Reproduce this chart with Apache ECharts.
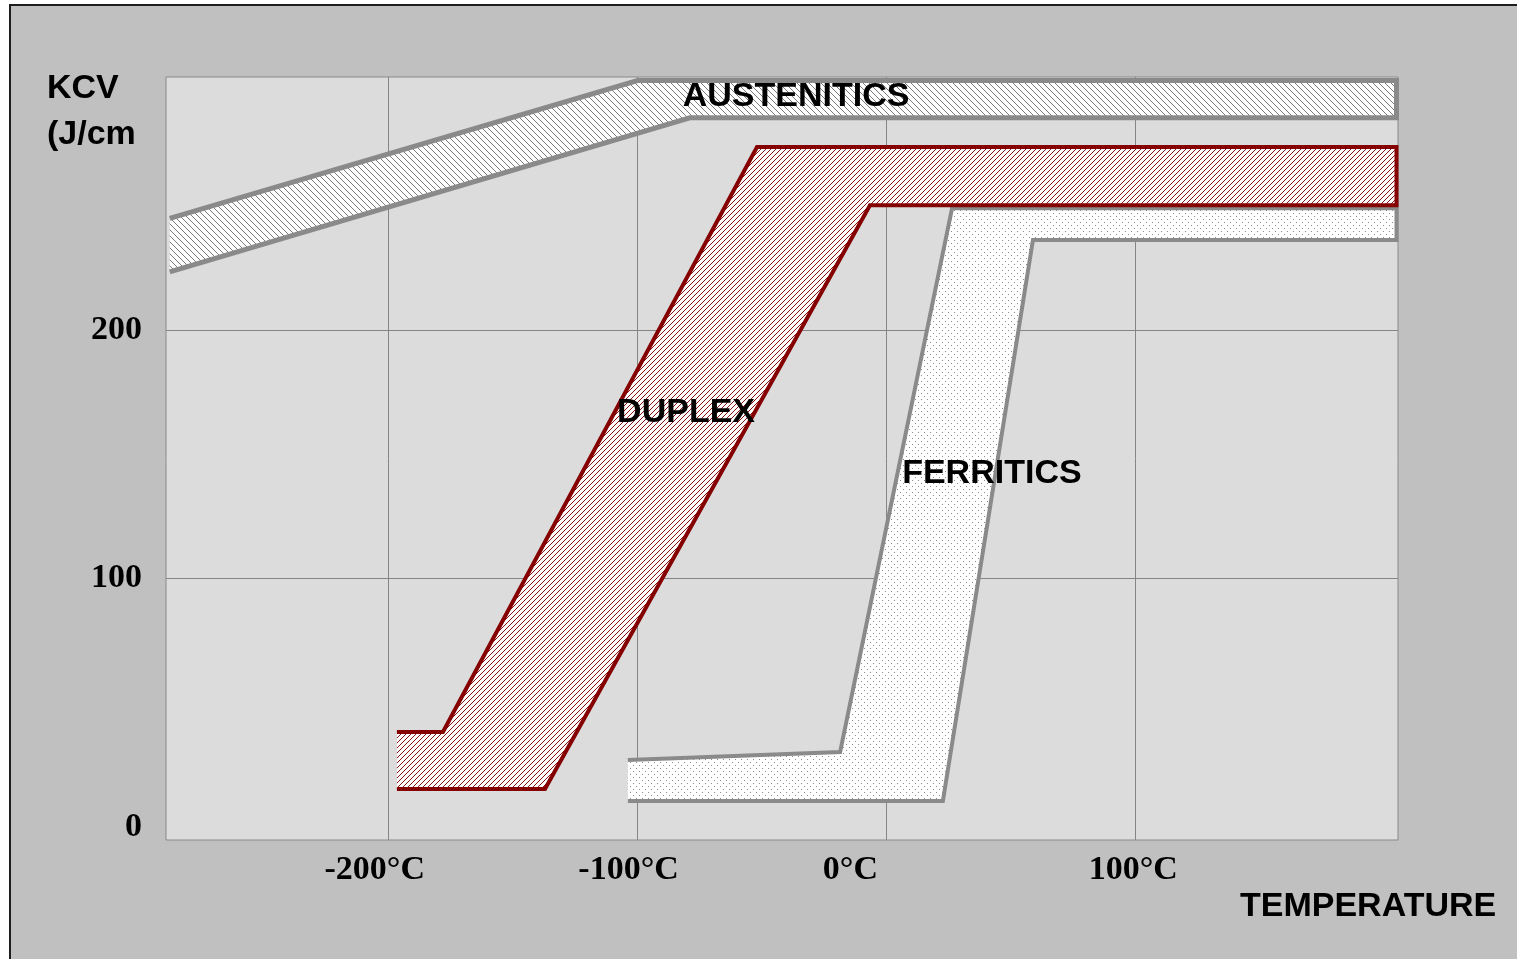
<!DOCTYPE html>
<html><head><meta charset="utf-8">
<script src="https://cdn.jsdelivr.net/npm/echarts@6/dist/echarts.min.js"></script>
<style>html,body{margin:0;padding:0;background:#fff;overflow:hidden}#c{width:1517px;height:959px}</style>
</head><body><div id="c"></div>
<script>
// ---------- data ----------
const xTicks = [-200, -100, 0, 100];
const xTickLabels = ['-200°C', '-100°C', '0°C', '100°C'];
const yTicks = [0, 100, 200];
const yGridTicks = [100, 200];
const yTickLabels = ['0', '100', '200'];

// AUSTENITICS band (upper edge left->right, then lower edge right->left)
const austX = [-288, -100, 205, 205, -79, -288];
const austY = [245, 300.5, 300.5, 285.5, 285.5, 223.5];
// DUPLEX band
const duplexX = [-196.7, -178.2, -52, 205, 205, -6.6, -137.2, -196.7];
const duplexY = [38.3, 38.3, 273.7, 273.7, 250.3, 250.3, 15.3, 15.3];
// FERRITICS band
const ferritX = [-103.9, -18.6, 26.4, 205, 205, 58.9, 22.7, -103.9];
const ferritY = [27, 30.2, 249.1, 249.1, 236.3, 236.3, 10.5, 10.5];

const bandNames = ['AUSTENITICS', 'DUPLEX', 'FERRITICS'];
const bandLabelX = [-36.3, -80.5, 42.4];
const bandLabelY = [293.8, 167, 142.1];

const yAxisTitle = 'KCV\n(J/cm';
const xAxisTitle = 'TEMPERATURE';

// ---------- styles ----------
const xLabelShift = [28, 18, 72, 4]; // right padding to nudge label centres

function hatch(size, color, dir) {
  const c = document.createElement('canvas');
  c.width = c.height = size;
  const g = c.getContext('2d');
  g.fillStyle = '#ffffff'; g.fillRect(0, 0, size, size);
  g.fillStyle = color;
  for (let i = 0; i < size; i++) {
    const y = dir === '/' ? size - 1 - i : i;
    g.fillRect(i, y, 1, 1);
  }
  return c;
}
function dots(size, color) {
  const c = document.createElement('canvas');
  c.width = c.height = size;
  const g = c.getContext('2d');
  g.fillStyle = '#ffffff'; g.fillRect(0, 0, size, size);
  g.fillStyle = color;
  g.fillRect(0, 0, 1, 1);
  g.fillRect(size / 2, size / 2, 1, 1);
  return c;
}

const bands = [
  { xs: austX, ys: austY, fill: { image: hatch(6, '#7a7a7a', '\\'), repeat: 'repeat' }, stroke: '#8a8a8a', width: 5 },
  { xs: ferritX, ys: ferritY, fill: { image: dots(6, '#8c8c8c'), repeat: 'repeat' }, stroke: '#8a8a8a', width: 4 },
  { xs: duplexX, ys: duplexY, fill: { image: hatch(5, '#8b1010', '/'), repeat: 'repeat' }, stroke: '#850000', width: 4 }
];

function bandSeries(b, idx) {
  return {
    type: 'custom',
    name: 'band' + idx,
    silent: true,
    z: 2 + idx,
    data: [0],
    renderItem: function (params, api) {
      const pts = b.xs.map((x, i) => api.coord([x, b.ys[i]]));
      return {
        type: 'group',
        children: [
          { type: 'polygon', shape: { points: pts }, style: { fill: b.fill, stroke: null } },
          { type: 'polyline', shape: { points: pts }, style: { fill: null, stroke: b.stroke, lineWidth: b.width, lineJoin: 'miter' } }
        ]
      };
    }
  };
}

const chart = echarts.init(document.getElementById('c'), null, { renderer: 'canvas' });
const richX = {};
xTickLabels.forEach((t, i) => {
  richX['s' + i] = { fontFamily: '"Liberation Serif", "Times New Roman", serif', fontWeight: 'bold', fontSize: 34, color: '#000', padding: [0, xLabelShift[i], 0, 0] };
});

chart.setOption({
  backgroundColor: '#ffffff',
  animation: false,
  grid: { left: 166, right: 119, top: 77, bottom: 119, show: true, backgroundColor: '#dcdcdc', borderColor: '#8a8a8a', borderWidth: 1 },
  xAxis: {
    type: 'value', min: -289.5, max: 205.6,
    axisLine: { show: false }, axisTick: { show: false, customValues: xTicks },
    splitLine: { show: true, lineStyle: { color: '#858585', width: 1 } },
    axisLabel: {
      customValues: xTicks, margin: 13,
      formatter: function (v) { const i = xTicks.indexOf(v); return '{s' + i + '|' + xTickLabels[i] + '}'; },
      rich: richX
    }
  },
  yAxis: {
    type: 'value', min: -5.2, max: 301.9,
    axisLine: { show: false }, axisTick: { show: false, customValues: yGridTicks },
    splitLine: { show: true, lineStyle: { color: '#858585', width: 1 } },
    axisLabel: {
      customValues: yTicks, margin: 24,
      formatter: function (v) { return yTickLabels[yTicks.indexOf(v)]; },
      fontFamily: '"Liberation Serif", "Times New Roman", serif', fontWeight: 'bold', fontSize: 34, color: '#000'
    }
  },
  graphic: [
    { type: 'rect', z: -100, silent: true, shape: { x: 10, y: 5, width: 1560, height: 1000 }, style: { fill: '#c0c0c0', stroke: '#1e1e1e', lineWidth: 2 } },
    { type: 'text', left: 47, top: 66, z: 10, style: { text: yAxisTitle, font: 'bold 34px "Liberation Sans", Arial, sans-serif', fill: '#000', lineHeight: 46 } },
    { type: 'text', left: 1240, top: 890, z: 10, style: { text: xAxisTitle, font: 'bold 34px "Liberation Sans", Arial, sans-serif', fill: '#000' } }
  ],
  series: bands.map(bandSeries).concat([{
    type: 'scatter', silent: true, z: 10, symbolSize: 0,
    itemStyle: { opacity: 1 },
    data: bandNames.map((n, i) => ({ name: n, value: [bandLabelX[i], bandLabelY[i]] })),
    label: { show: true, position: 'inside', formatter: '{b}', fontFamily: '"Liberation Sans", Arial, sans-serif', fontWeight: 'bold', fontSize: 34, color: '#000', opacity: 1 }
  }])
});
</script></body></html>
